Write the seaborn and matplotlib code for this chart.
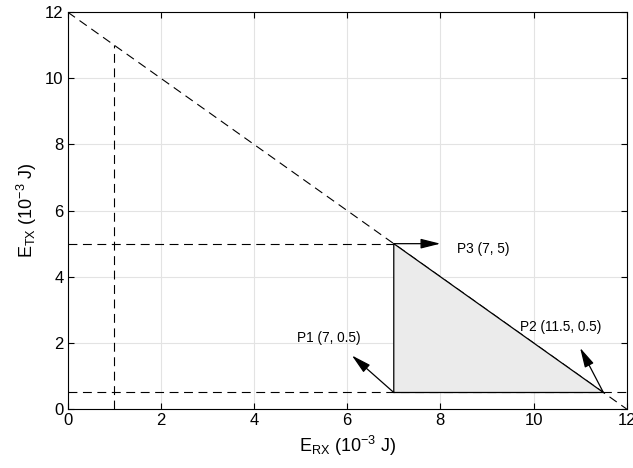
import matplotlib
matplotlib.use("Agg")
import matplotlib.pyplot as plt
import seaborn as sns

# Data
budget_x = [0, 12]
budget_y = [12, 0]
vline_x = [1, 1]
vline_y = [0, 11]
h5_x = [0, 7]
h5_y = [5, 5]
h05_x = [0, 12]
h05_y = [0.5, 0.5]
tri_x = [7, 7, 11.5, 7]
tri_y = [0.5, 5, 0.5, 0.5]
points = ["P1 (7, 0.5)", "P2 (11.5, 0.5)", "P3 (7, 5)"]
pt_xy = [(7, 0.5), (11.5, 0.5), (7, 5)]
arrow_tip = [(6.1, 1.62), (11.0, 1.85), (8.0, 5.0)]
label_xy = [(4.93, 2.15), (9.72, 2.48), (8.35, 4.85)]
xticks = [0, 2, 4, 6, 8, 10, 12]
yticks = [0, 2, 4, 6, 8, 10, 12]

sns.set_theme(style="white")
plt.rcParams['font.family'] = ['Liberation Sans', 'DejaVu Sans']
plt.rcParams['text.color'] = 'black'
plt.rcParams['axes.labelcolor'] = 'black'

fig = plt.figure(figsize=(6.33, 4.68), dpi=100)
ax = fig.add_axes([0.107, 0.126, 0.883, 0.848])

for xs, ys in [(budget_x, budget_y), (vline_x, vline_y), (h5_x, h5_y), (h05_x, h05_y)]:
    sns.lineplot(x=xs, y=ys, ax=ax, color="black", linewidth=0.8,
                 estimator=None, sort=False)
    ax.lines[-1].set_linestyle((0, (8, 5)))

ax.fill(tri_x, tri_y, facecolor="#ebebeb", edgecolor="none", zorder=2)
sns.lineplot(x=tri_x, y=tri_y, ax=ax, color="black", linewidth=0.9,
             estimator=None, sort=False)

for lab, p, t, lxy in zip(points, pt_xy, arrow_tip, label_xy):
    ax.annotate("", xy=t, xytext=p,
                arrowprops=dict(arrowstyle="-|>,head_length=1.0,head_width=0.25",
                                color="black", lw=0.9, shrinkA=0, shrinkB=0))
    ax.text(lxy[0], lxy[1], lab, fontsize=9.8, ha="left", va="center", zorder=5,
            color="black")

ax.set_xlim(0, 12)
ax.set_ylim(0, 12)
ax.set_xticks(xticks)
ax.set_yticks(yticks)
ax.grid(True, color="#e3e3e3", linewidth=0.8)
ax.set_axisbelow(True)
ax.tick_params(direction="in", length=4, width=0.8, labelsize=12, colors="black",
               top=True, right=True, bottom=True, left=True, pad=3)
for s in ax.spines.values():
    s.set_color("black")
    s.set_linewidth(0.8)
ax.set_xlabel(r"E$_{\mathregular{RX}}$ (10$^{\mathregular{-3}}$ J)", fontsize=13)
ax.set_ylabel(r"E$_{\mathregular{TX}}$ (10$^{\mathregular{-3}}$ J)", fontsize=13)

fig.savefig("out.png", dpi=100)
